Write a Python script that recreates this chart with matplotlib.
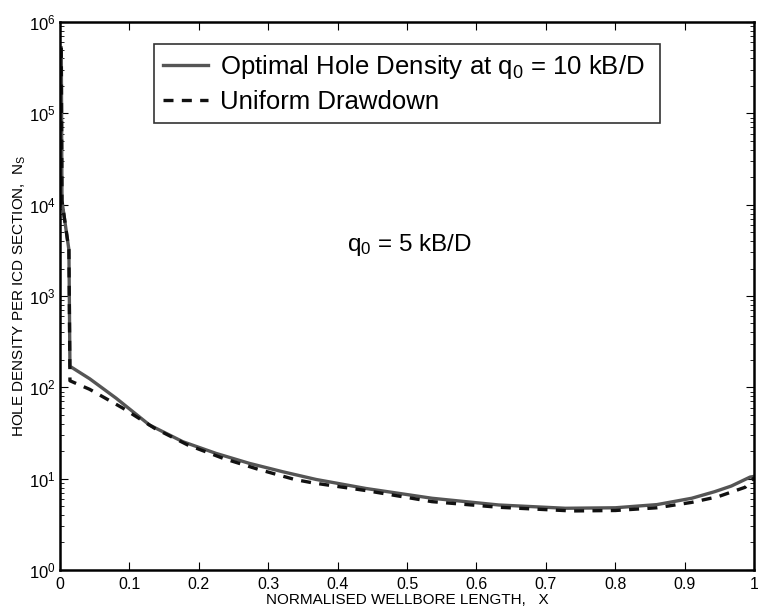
import numpy as np
import matplotlib
matplotlib.use("Agg")
import matplotlib.pyplot as plt

plt.rcParams['font.family'] = ['Liberation Sans', 'DejaVu Sans']
plt.rcParams['mathtext.fontset'] = 'custom'
plt.rcParams['mathtext.rm'] = 'Liberation Sans'
plt.rcParams['mathtext.it'] = 'Liberation Sans'

# optimal hole density (solid)
x_opt = [0.002, 0.003, 0.013, 0.0145, 0.043, 0.081, 0.129, 0.177, 0.225, 0.273, 0.321, 0.369,
         0.441, 0.536, 0.632, 0.728, 0.80, 0.86, 0.91, 0.943, 0.967, 0.994, 1.0]
y_opt = [5.2e5, 1.1e4, 3.2e3, 170, 124, 76, 38.7, 25.4, 18.9, 14.7, 11.9, 9.8,
         7.8, 6.1, 5.15, 4.74, 4.8, 5.2, 6.1, 7.2, 8.3, 10.4, 10.6]

# uniform drawdown (dashed)
x_uni = [0.002, 0.003, 0.013, 0.0145, 0.043, 0.091, 0.1365, 0.184, 0.235, 0.285, 0.338, 0.364,
         0.441, 0.536, 0.632, 0.7375, 0.80, 0.86, 0.91, 0.948, 0.987, 1.0]
y_uni = [5.2e5, 1.1e4, 3.2e3, 118, 95, 59, 35.6, 23.4, 16.7, 12.7, 9.8, 9.0,
         7.4, 5.6, 4.86, 4.43, 4.48, 4.8, 5.5, 6.35, 8.05, 10.2]

fig = plt.figure(figsize=(7.58, 6.15), dpi=100)
ax = fig.add_axes([0.079, 0.0732, 0.916, 0.891])

ax.plot(x_opt, y_opt, color='#555555', lw=2.4, label=r'Optimal Hole Density at q$_0$ = 10 kB/D')
ax.plot(x_uni, y_uni, color='#111111', lw=2.4, ls=(0, (3, 2.5)), label='Uniform Drawdown')

ax.set_yscale('log')
ax.set_xlim(0, 1)
ax.set_ylim(1, 1e6)
ax.set_xticks(np.arange(0, 1.01, 0.1))
ax.set_xticklabels(['0', '0.1', '0.2', '0.3', '0.4', '0.5', '0.6', '0.7', '0.8', '0.9', '1'])
ax.tick_params(which='both', direction='in', top=True, right=True)
ax.tick_params(axis='x', labelsize=11.5, pad=5)
ax.tick_params(axis='y', labelsize=12, pad=3)
ax.tick_params(which='major', length=6)
ax.tick_params(which='minor', length=3)
for s in ax.spines.values():
    s.set_linewidth(1.8)

ax.set_xlabel('NORMALISED WELLBORE LENGTH,   X', fontsize=11, labelpad=1)
ax.set_ylabel(r'HOLE DENSITY PER ICD SECTION,  N$_{\mathrm{S}}$', fontsize=11, labelpad=1)

ax.text(0.414, 10**3.495, r'q$_0$ = 5 kB/D', fontsize=17.5, va='baseline')

leg = ax.legend(loc='upper left', bbox_to_anchor=(0.135, 0.86, 0.73, 0.1), mode='expand',
                fontsize=18.5, frameon=True, fancybox=False, edgecolor='black',
                handlelength=1.75, handletextpad=0.5, borderpad=0.35, labelspacing=0.35,
                borderaxespad=0)
leg.get_frame().set_linewidth(1.2)

fig.savefig('out.png', dpi=100)
